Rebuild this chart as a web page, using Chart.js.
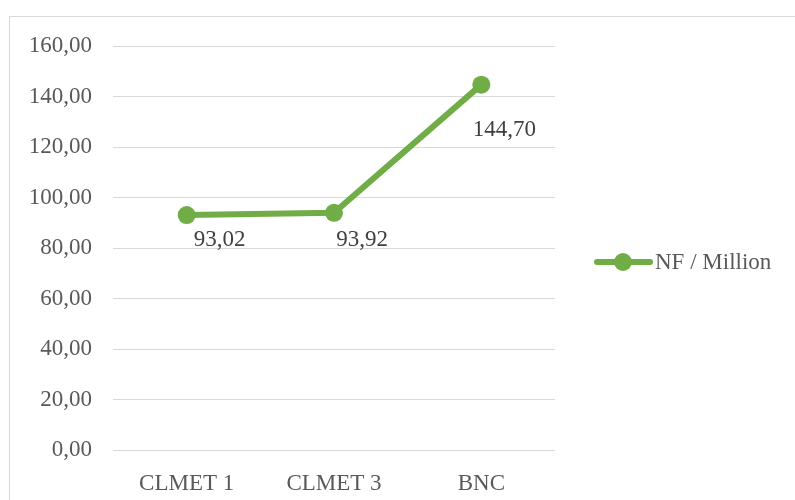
<!DOCTYPE html>
<html>
<head>
<meta charset="utf-8">
<script src="https://cdn.jsdelivr.net/npm/chart.js@4/dist/chart.umd.min.js"></script>
<style>
  html,body{margin:0;padding:0;background:#fff}
  #wrap{width:795px;height:500px;position:relative}
</style>
</head>
<body>
<div id="wrap"><canvas id="nf-chart"></canvas></div>
<script>
// corpus frequencies
const corpora  = ['CLMET 1', 'CLMET 3', 'BNC'];
const nfValues = [93.02, 93.92, 144.70];
const seriesName = 'NF / Million';

const GREEN = '#70AD47';
const TEXT  = '#595959';
const FONT  = '"Liberation Serif", "Times New Roman", serif';
const FSIZE = 23;

// where each value label sits relative to its point
const labelShift = [[33, 25], [28, 27], [23, 45]];

const fmt = v => Number(v).toFixed(2).replace('.', ',');

// outer frame, value labels and the legend entry
const decorations = {
  id: 'decorations',
  beforeDraw(chart) {
    const c = chart.ctx;
    c.save();
    c.strokeStyle = '#d9d9d9';
    c.lineWidth = 1;
    c.strokeRect(9.5, 16.5, 820, 520);
    c.restore();
  },
  afterDatasetsDraw(chart) {
    const c = chart.ctx;
    const meta = chart.getDatasetMeta(0);
    const ds = chart.data.datasets[0];
    c.save();
    c.font = FSIZE + 'px ' + FONT;
    c.fillStyle = '#404040';
    c.textAlign = 'center';
    c.textBaseline = 'middle';
    meta.data.forEach((pt, i) => {
      const [dx, dy] = labelShift[i];
      c.fillText(fmt(ds.data[i]), pt.x + dx, pt.y + dy);
    });

    // legend
    const ly = 262;
    c.strokeStyle = GREEN;
    c.lineWidth = 6;
    c.lineCap = 'round';
    c.beginPath();
    c.moveTo(597, ly);
    c.lineTo(650, ly);
    c.stroke();
    c.fillStyle = GREEN;
    c.beginPath();
    c.arc(623, ly, 9, 0, Math.PI * 2);
    c.fill();
    c.fillStyle = TEXT;
    c.textAlign = 'left';
    c.fillText(ds.label, 655, ly + 1);
    c.restore();
  }
};

new Chart(document.getElementById('nf-chart'), {
  type: 'line',
  data: {
    labels: corpora,
    datasets: [{
      label: seriesName,
      data: nfValues,
      borderColor: GREEN,
      backgroundColor: GREEN,
      borderWidth: 6,
      pointRadius: 9,
      pointHoverRadius: 9,
      pointBackgroundColor: GREEN,
      pointBorderWidth: 0,
      tension: 0,
      fill: false
    }]
  },
  options: {
    responsive: true, maintainAspectRatio: false,
    animation: false,
    layout: { padding: { top: 46, right: 240, left: 0, bottom: 0 } },
    plugins: { legend: { display: false }, tooltip: { enabled: false } },
    scales: {
      x: {
        offset: true,
        grid: { display: false },
        border: { display: false },
        ticks: { color: TEXT, font: { family: FONT, size: FSIZE }, padding: 12 },
        afterFit: s => { s.height = 50; }
      },
      y: {
        min: 0, max: 160,
        grid: { color: '#d9d9d9', lineWidth: 1, drawTicks: false },
        border: { display: false },
        ticks: {
          stepSize: 20, color: TEXT, padding: 21,
          font: { family: FONT, size: FSIZE },
          callback: v => fmt(v)
        },
        afterFit: s => { s.width = 113; }
      }
    }
  },
  plugins: [decorations]
});
</script>
</body>
</html>
